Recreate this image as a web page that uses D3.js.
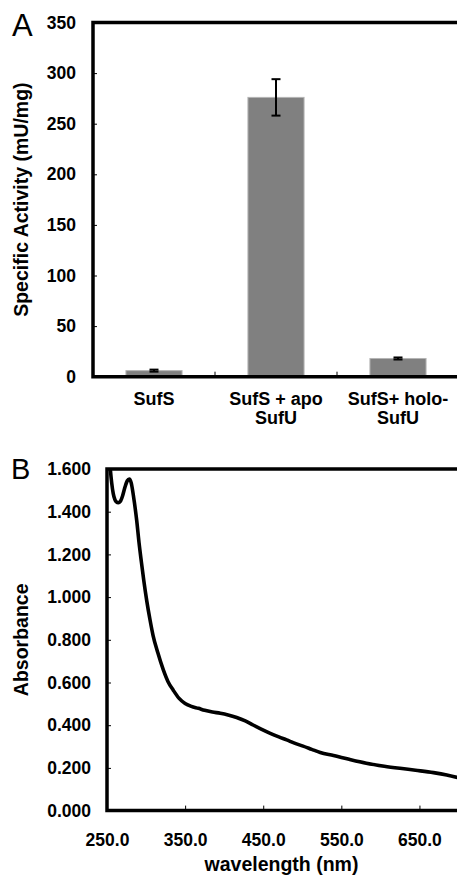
<!DOCTYPE html>
<html>
<head>
<meta charset="utf-8">
<script src="https://cdn.jsdelivr.net/npm/d3@7"></script>
<style>
  body { margin: 0; background: #fff; }
  svg { display: block; font-family: "Liberation Sans", Arial, sans-serif; }
</style>
</head>
<body>
<div id="chart"></div>
<script>
// panel A data
const categories = ["SufS", "SufS + apo SufU", "SufS+ holo-SufU"]
const categoryLines = [["SufS"], ["SufS + apo", "SufU"], ["SufS+ holo-", "SufU"]]
const activity = [6, 276, 18]
const activityErr = [1, 18, 1]
const activityTicks = [0, 50, 100, 150, 200, 250, 300, 350]

// panel B data
const wavelength = [250, 252, 254, 256, 258, 260, 262, 264.5, 267, 270, 273, 276, 278.5, 281, 283, 285, 288, 291, 294, 297,
    301, 305, 309, 315, 322, 328, 335, 342, 350, 358, 367, 375, 385, 395, 405, 416, 427, 437, 448, 459,
    470, 480, 490, 501, 512, 523, 540, 560, 582, 605, 625, 645, 668, 685, 700]
const absorbance = [1.82, 1.71, 1.61, 1.535, 1.485, 1.458, 1.446, 1.442, 1.448, 1.475, 1.515, 1.545, 1.553, 1.535, 1.495, 1.445, 1.36, 1.255, 1.165, 1.08,
    0.98, 0.895, 0.82, 0.74, 0.66, 0.605, 0.563, 0.527, 0.502, 0.488, 0.479, 0.470, 0.462, 0.456, 0.448, 0.436, 0.42, 0.401, 0.381, 0.362,
    0.345, 0.331, 0.316, 0.302, 0.287, 0.272, 0.258, 0.240, 0.222, 0.208, 0.198, 0.189, 0.178, 0.167, 0.154]
const wavelengthTicks = [250, 350, 450, 550, 650]
const absorbanceTicks = [0, 0.2, 0.4, 0.6, 0.8, 1.0, 1.2, 1.4, 1.6]

const width = 457
const height = 876

const svg = d3.select("#chart")
    .append("svg")
    .attr("width", width)
    .attr("height", height)

const axisW = 3.5

/* ---------- PANEL A ---------- */
const a = { left: 93, right: 459, top: 22.5, bottom: 376.7 }

const xA = d3.scaleBand()
    .domain(categories)
    .range([a.left, a.right])
    .paddingInner(0.54)
    .paddingOuter(0.27)

const yA = d3.scaleLinear()
    .domain([0, 350])
    .range([a.bottom, a.top])

const gA = svg.append("g")

gA.selectAll("rect.bar")
    .data(activity)
    .join("rect")
    .attr("class", "bar")
    .attr("x", (d, i) => xA(categories[i]))
    .attr("y", d => yA(d))
    .attr("width", xA.bandwidth())
    .attr("height", d => yA(0) - yA(d))
    .attr("fill", "#808080")
    .attr("stroke", "#b4b4b4")
    .attr("stroke-width", 1)

// error bars
const errG = gA.selectAll("g.err")
    .data(activity)
    .join("g")
    .attr("class", "err")
    .attr("transform", (d, i) => `translate(${xA(categories[i]) + xA.bandwidth() / 2},0)`)

errG.append("line")
    .attr("y1", (d, i) => yA(d + activityErr[i]))
    .attr("y2", (d, i) => yA(d - activityErr[i]))
    .attr("stroke", "#000").attr("stroke-width", 2)
errG.append("line")
    .attr("x1", -4.5).attr("x2", 4.5)
    .attr("y1", (d, i) => yA(d + activityErr[i]))
    .attr("y2", (d, i) => yA(d + activityErr[i]))
    .attr("stroke", "#000").attr("stroke-width", 2)
errG.append("line")
    .attr("x1", -4.5).attr("x2", 4.5)
    .attr("y1", (d, i) => yA(d - activityErr[i]))
    .attr("y2", (d, i) => yA(d - activityErr[i]))
    .attr("stroke", "#000").attr("stroke-width", 2)

// y axis
const yAxisA = gA.append("g")
    .attr("transform", `translate(${a.left},0)`)
    .call(d3.axisLeft(yA).tickValues(activityTicks).tickSize(-4).tickPadding(17).tickSizeOuter(0))
yAxisA.select(".domain").remove()
yAxisA.selectAll(".tick line").attr("stroke", "#000").attr("stroke-width", 1)
yAxisA.selectAll("text")
    .attr("font-size", 17.5).attr("font-weight", "bold").attr("fill", "#000")
    .attr("font-family", "Liberation Sans, Arial, sans-serif")

// category separator ticks
gA.selectAll("line.sep")
    .data(d3.range(1, categories.length))
    .join("line")
    .attr("class", "sep")
    .attr("x1", i => a.left + xA.step() * i)
    .attr("x2", i => a.left + xA.step() * i)
    .attr("y1", a.bottom)
    .attr("y2", a.bottom - 5)
    .attr("stroke", "#000").attr("stroke-width", 1)

// frame lines (right side runs off the picture)
gA.append("path")
    .attr("d", `M${a.right},${a.top}H${a.left}V${a.bottom}H${a.right}`)
    .attr("fill", "none").attr("stroke", "#000").attr("stroke-width", axisW)

// category labels
gA.selectAll("text.cat")
    .data(categoryLines)
    .join("text")
    .attr("class", "cat")
    .attr("text-anchor", "middle")
    .attr("font-size", 18).attr("font-weight", "bold")
    .attr("transform", (d, i) => `translate(${xA(categories[i]) + xA.bandwidth() / 2},${a.bottom + 28.5})`)
    .selectAll("tspan")
    .data(d => d)
    .join("tspan")
    .attr("x", 0)
    .attr("y", (d, j) => j * 19)
    .text(d => d)

gA.append("text")
    .attr("transform", `translate(28,${(a.top + a.bottom) / 2}) rotate(-90)`)
    .attr("text-anchor", "middle")
    .attr("font-size", 19.5).attr("font-weight", "bold")
    .text("Specific Activity (mU/mg)")

gA.append("text")
    .attr("x", 12).attr("y", 36)
    .attr("font-size", 31)
    .text("A")

/* ---------- PANEL B ---------- */
const b = { left: 107, right: 458.5, top: 469, bottom: 810.6 }

const xB = d3.scaleLinear()
    .domain([250, 700])
    .range([b.left, b.right])

const yB = d3.scaleLinear()
    .domain([0, 1.6])
    .range([b.bottom, b.top])

const gB = svg.append("g")

svg.append("clipPath")
    .attr("id", "clipB")
    .append("rect")
    .attr("x", b.left).attr("y", b.top)
    .attr("width", b.right - b.left).attr("height", b.bottom - b.top)

const spectrum = wavelength.map((w, i) => ({ w: w, a: absorbance[i] }))

gB.append("path")
    .datum(spectrum)
    .attr("clip-path", "url(#clipB)")
    .attr("fill", "none")
    .attr("stroke", "#000")
    .attr("stroke-width", 3.6)
    .attr("stroke-linejoin", "round")
    .attr("d", d3.line().x(d => xB(d.w)).y(d => yB(d.a)).curve(d3.curveMonotoneX))

const yAxisB = gB.append("g")
    .attr("transform", `translate(${b.left},0)`)
    .call(d3.axisLeft(yB).tickValues(absorbanceTicks).tickFormat(d3.format(".3f")).tickSize(-4).tickPadding(16).tickSizeOuter(0))
yAxisB.select(".domain").remove()

const xAxisB = gB.append("g")
    .attr("transform", `translate(0,${b.bottom})`)
    .call(d3.axisBottom(xB).tickValues(wavelengthTicks).tickFormat(d3.format(".1f")).tickSize(-5).tickPadding(23).tickSizeOuter(0))
xAxisB.select(".domain").remove()

gB.selectAll(".tick line").attr("stroke", "#000").attr("stroke-width", 1)
gB.selectAll(".tick text")
    .attr("font-size", 17.5).attr("font-weight", "bold").attr("fill", "#000")
    .attr("font-family", "Liberation Sans, Arial, sans-serif")

gB.append("path")
    .attr("d", `M${b.right + 2},${b.top}H${b.left}V${b.bottom}H${b.right + 2}`)
    .attr("fill", "none").attr("stroke", "#000").attr("stroke-width", axisW)

gB.append("text")
    .attr("transform", `translate(28,${(b.top + b.bottom) / 2}) rotate(-90)`)
    .attr("text-anchor", "middle")
    .attr("font-size", 19.5).attr("font-weight", "bold")
    .text("Absorbance")

gB.append("text")
    .attr("x", (b.left + 456) / 2)
    .attr("y", 871)
    .attr("text-anchor", "middle")
    .attr("font-size", 19.5).attr("font-weight", "bold")
    .text("wavelength (nm)")

gB.append("text")
    .attr("x", 11).attr("y", 479)
    .attr("font-size", 29)
    .text("B")
</script>
</body>
</html>
